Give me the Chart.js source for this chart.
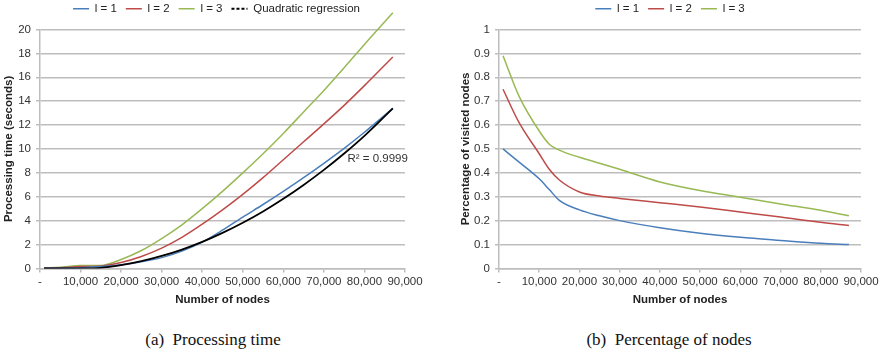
<!DOCTYPE html>
<html>
<head>
<meta charset="utf-8">
<script src="https://cdn.jsdelivr.net/npm/chart.js@4.4.1/dist/chart.umd.min.js"></script>
<style>
  html, body { margin: 0; padding: 0; background: #fff; }
  #wrap { position: relative; width: 886px; height: 356px; overflow: hidden; }
  .box { position: absolute; top: 0; width: 443px; height: 310px; }
  #boxA { left: 0; }
  #boxB { left: 443px; }
  .cap { position: absolute; top: 330px; font-family: "Liberation Serif", "Times New Roman", serif;
         font-size: 17px; line-height: 20px; color: #111; white-space: pre; transform: translateX(-50%); }
</style>
</head>
<body>
<div id="wrap">
  <div class="box" id="boxA"><canvas id="timeChart"></canvas></div>
  <div class="box" id="boxB"><canvas id="visitChart"></canvas></div>
  <div class="cap" style="left:213px">(a)  Processing time</div>
  <div class="cap" style="left:669px">(b)  Percentage of nodes</div>
</div>
<script>
// (a) processing time, seconds
const nodesA = [1000, 5000, 10000, 15000, 20000, 25000, 30000, 35000, 40000, 45000, 50000, 55000, 60000, 65000, 70000, 75000, 80000, 87000];
const timeL1 = [0.01, 0.02, 0.06, 0.15, 0.3, 0.55, 0.9, 1.45, 2.2, 3.2, 4.3, 5.35, 6.45, 7.6, 8.8, 10.05, 11.4, 13.4];
const timeL2 = [0.02, 0.05, 0.15, 0.2, 0.5, 1.0, 1.7, 2.6, 3.7, 4.9, 6.2, 7.6, 9.1, 10.6, 12.1, 13.65, 15.3, 17.7];
const timeL3 = [0.05, 0.1, 0.25, 0.25, 0.75, 1.5, 2.5, 3.65, 5.0, 6.45, 8.0, 9.6, 11.3, 13.1, 14.9, 16.8, 18.75, 21.4];
const timeFit = [0, 0, 0, 0.05, 0.28, 0.6, 1.04, 1.58, 2.22, 2.97, 3.82, 4.77, 5.83, 6.99, 8.25, 9.62, 11.1, 13.4];
const r2Text = 'R² = 0.9999';
const r2At = [75800, 9.2];

// (b) share of visited nodes
const nodesB = [1000, 5000, 10000, 12500, 15000, 20000, 25000, 30000, 40000, 50000, 60000, 70000, 80000, 87000];
const visitL1 = [0.5, 0.445, 0.375, 0.33, 0.285, 0.245, 0.22, 0.2, 0.17, 0.147, 0.13, 0.117, 0.105, 0.1];
const visitL2 = [0.75, 0.61, 0.48, 0.415, 0.37, 0.32, 0.303, 0.293, 0.275, 0.257, 0.236, 0.215, 0.193, 0.18];
const visitL3 = [0.89, 0.72, 0.575, 0.52, 0.495, 0.465, 0.44, 0.415, 0.362, 0.326, 0.298, 0.27, 0.243, 0.22];

const blue = '#4a7ebb', red = '#be4b48', green = '#98b954';
const sans = '"Liberation Sans", Arial, Helvetica, sans-serif';
const gridCol = '#bdbdbd';
Chart.defaults.font.family = sans;
Chart.defaults.font.size = 11.5;
Chart.defaults.color = '#333';

const pts = (xs, ys) => xs.map((x, i) => ({x, y: ys[i]}));

function line(label, xs, ys, color, extra) {
  return Object.assign({
    label, data: pts(xs, ys), borderColor: color, backgroundColor: color,
    borderWidth: 1.5, pointRadius: 0, cubicInterpolationMode: 'monotone', fill: false
  }, extra || {});
}

function legendOpts() {
  return {
    position: 'top',
    labels: {
      usePointStyle: true, pointStyle: 'line', pointStyleWidth: 16,
      padding: 9, font: {size: 11.5}, color: '#222',
      sort: (a, b) => a.datasetIndex - b.datasetIndex,
      generateLabels(chart) {
        const items = Chart.defaults.plugins.legend.labels.generateLabels(chart);
        items.forEach(it => { if (it.text === 'Quadratic regression') it.lineDash = [3, 2]; });
        return items;
      }
    }
  };
}

// more room under the legend, and nudge it sideways
function legendTweak(dx) {
  return {
    id: 'legendTweak',
    beforeLayout(chart) {
      const lg = chart.legend;
      if (lg && !lg._gapDone) {
        const fit = lg.fit;
        lg.fit = function() { fit.call(this); this.height += 5; };
        lg._gapDone = true;
      }
    },
    afterLayout(chart) {
      const lg = chart.legend;
      if (lg) { lg.left += dx; lg.right += dx; }
    }
  };
}

function xAxis() {
  return {
    type: 'linear', min: 0, max: 90000,
    grid: {drawOnChartArea: false, drawTicks: true, tickLength: 4, color: gridCol, lineWidth: 1.5},
    border: {color: gridCol, width: 1.5},
    ticks: {stepSize: 10000, autoSkip: false, maxRotation: 0, padding: 3, color: '#333',
      callback: v => v === 0 ? '-' : v.toLocaleString('en-US')},
    title: {display: true, text: 'Number of nodes', font: {weight: 'bold', size: 11.5}, color: '#222', padding: {top: 1, bottom: 2}}
  };
}

function yAxis(max, step, title, width) {
  return {
    min: 0, max,
    grid: {tickLength: 4, color: gridCol, lineWidth: 1.5},
    border: {color: gridCol, width: 1.5},
    ticks: {stepSize: step, padding: 5, color: '#333',
      callback: v => String(Math.round(v * 10) / 10)},
    title: {display: true, text: title, font: {weight: 'bold', size: 11.5}, color: '#222', padding: {top: 2, bottom: 0}},
    afterFit: s => { s.width = width; }
  };
}

const r2Plugin = {
  id: 'r2label',
  afterDatasetsDraw(chart) {
    const {ctx, scales} = chart;
    ctx.save();
    ctx.font = '11.5px ' + sans;
    ctx.fillStyle = '#333';
    ctx.textBaseline = 'middle';
    ctx.fillText(r2Text, scales.x.getPixelForValue(r2At[0]), scales.y.getPixelForValue(r2At[1]));
    ctx.restore();
  }
};

new Chart(document.getElementById('timeChart'), {
  type: 'line',
  data: {
    datasets: [
      line('l = 1', nodesA, timeL1, blue),
      line('l = 2', nodesA, timeL2, red),
      line('l = 3', nodesA, timeL3, green, {clip: false}),
      line('Quadratic regression', nodesA, timeFit, '#000', {borderWidth: 1.8, order: -1})
    ]
  },
  options: {
    responsive: true, maintainAspectRatio: false, animation: false, devicePixelRatio: 1,
    layout: {padding: {top: -6, right: 38, bottom: 1, left: 0}},
    plugins: {legend: legendOpts(), tooltip: {enabled: false}},
    scales: {x: xAxis(), y: yAxis(20, 2, 'Processing time (seconds)', 40)}
  },
  plugins: [r2Plugin, legendTweak(14)]
});

new Chart(document.getElementById('visitChart'), {
  type: 'line',
  data: {
    datasets: [
      line('l = 1', nodesB, visitL1, blue),
      line('l = 2', nodesB, visitL2, red),
      line('l = 3', nodesB, visitL3, green)
    ]
  },
  options: {
    responsive: true, maintainAspectRatio: false, animation: false, devicePixelRatio: 1,
    layout: {padding: {top: -6, right: 25, bottom: 1, left: 14}},
    plugins: {legend: legendOpts(), tooltip: {enabled: false}},
    scales: {x: xAxis(), y: yAxis(1, 0.1, 'Percentage of visited nodes', 42)}
  },
  plugins: [legendTweak(11)]
});
</script>
</body>
</html>
